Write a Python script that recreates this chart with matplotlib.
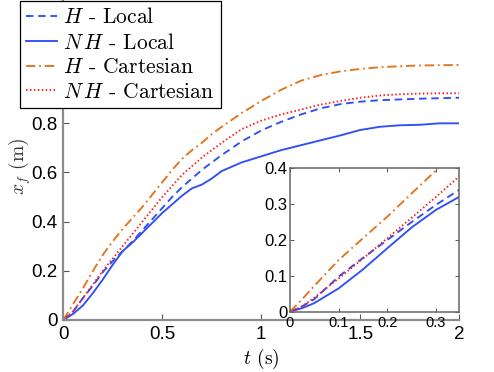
import matplotlib
matplotlib.use('Agg')
import matplotlib.pyplot as plt

plt.rcParams['mathtext.fontset'] = 'cm'
plt.rcParams['font.family'] = ['Liberation Sans', 'DejaVu Sans']

# main plot
t = [0, .05, .1, .15, .2, .25, .3, .35, .4, .45, .5, .55, .6, .65, .7, .75, .8,
     .9, 1.0, 1.1, 1.2, 1.3, 1.4, 1.5, 1.6, 1.7, 1.8, 1.9, 2.0]
h_local = [0, .035, .09, .14, .195, .24, .28, .32, .365, .41, .455, .5, .54, .575, .61, .64, .67,
           .725, .77, .805, .835, .86, .877, .887, .893, .896, .899, .901, .903]
nh_local = [0, .025, .06, .11, .165, .225, .28, .315, .355, .395, .435, .47, .505, .535, .55, .575, .605,
            .64, .665, .69, .71, .73, .75, .772, .785, .791, .793, .799, .799]
h_cart = [0, .065, .13, .2, .265, .32, .37, .415, .46, .51, .56, .61, .655, .69, .72, .755, .785,
          .84, .89, .935, .972, .995, 1.01, 1.02, 1.027, 1.031, 1.034, 1.035, 1.036]
nh_cart = [0, .035, .09, .145, .2, .25, .3, .35, .4, .45, .5, .545, .59, .625, .66, .69, .72,
           .775, .81, .835, .855, .875, .89, .903, .912, .917, .92, .921, .921]

# inset (zoom on the start)
t_in = [0, .025, .05, .1, .15, .2, .25, .3, .35]
h_local_in = [0, .015, .035, .098, .15, .2, .25, .298, .342]
nh_local_in = [0, .01, .024, .065, .118, .177, .235, .284, .322]
h_cart_in = [0, .035, .072, .144, .205, .265, .33, .394, .46]
nh_cart_in = [0, .015, .039, .093, .148, .205, .262, .32, .38]

labels = ['$H$ - Local', '$N\\,H$ - Local', '$H$ - Cartesian', '$N\\,H$ - Cartesian']
BLUE = '#2f4ff5'
ORANGE = '#e2741c'
RED = '#ff1a1a'


def draw(ax, x, ys, lw):
    a, b, c, d = ys
    l1, = ax.plot(x, a, color=BLUE, ls=(0, (4, 2.5)), lw=lw)
    l2, = ax.plot(x, b, color=BLUE, ls='-', lw=lw)
    l3, = ax.plot(x, c, color=ORANGE, ls=(0, (5, 2, 1, 2)), lw=lw)
    l4, = ax.plot(x, d, color=RED, ls=(0, (0.8, 1.3)), lw=lw)
    return [l1, l2, l3, l4]


fig = plt.figure(figsize=(4.94, 3.72), dpi=100)
W, H = 494.0, 372.0

ax = fig.add_axes([63.3 / W, 52 / H, 396 / W, 320 / H])
lines = draw(ax, t, [h_local, nh_local, h_cart, nh_cart], 1.35)
ax.set_xlim(0, 2)
ax.set_ylim(0, 1.3)
ax.set_xticks([0, 0.5, 1, 1.5, 2])
ax.set_xticklabels(['0', '0.5', '1', '1.5', '2'])
ax.set_yticks([0, 0.2, 0.4, 0.6, 0.8, 1.0, 1.2])
ax.set_yticklabels(['0', '0.2', '0.4', '0.6', '0.8', '1', '1.2'])
ax.spines['top'].set_visible(False)
ax.spines['right'].set_visible(False)
for s in ['left', 'bottom']:
    ax.spines[s].set_color('#8c8c8c')
    ax.spines[s].set_linewidth(1.6)
ax.tick_params(direction='in', length=4, width=0.8, color='#555555', labelsize=13.5, pad=4)
ax.set_xlabel('$t$ (s)', family='cmr10', fontsize=14, labelpad=3)
ax.set_ylabel('$x_f$ (m)', family='cmr10', fontsize=14, color='#333333')
ax.yaxis.set_label_coords(-0.076, 0.48)

axin = fig.add_axes([290 / W, (H - 311.7) / H, 169.3 / W, 143.4 / H])
draw(axin, t_in, [h_local_in, nh_local_in, h_cart_in, nh_cart_in], 1.35)
axin.set_xlim(0, 0.348)
axin.set_ylim(0, 0.4)
axin.set_xticks([0, 0.1, 0.2, 0.3])
axin.set_xticklabels(['0', '0.1', '0.2', '0.3'])
axin.set_yticks([0, 0.1, 0.2, 0.3, 0.4])
axin.set_yticklabels(['0', '0.1', '0.2', '0.3', '0.4'])
for s in axin.spines.values():
    s.set_color('#666666')
    s.set_linewidth(1.1)
axin.tick_params(direction='in', length=3, width=0.7, color='#555555', top=True, right=True, pad=2)
axin.tick_params(axis='y', labelsize=12)
axin.tick_params(axis='x', labelsize=10.5, pad=3)

leg = fig.legend(lines, labels, loc='upper left', bbox_to_anchor=(20 / W, 1 - 1 / H),
                 bbox_transform=fig.transFigure, borderaxespad=0, fancybox=False,
                 edgecolor='black', framealpha=1, handlelength=1.4, handletextpad=0.3,
                 labelspacing=0.24, borderpad=0.3, prop={'family': 'cmr10', 'size': 15.5})
leg.get_frame().set_linewidth(0.9)

fig.savefig('out.png', dpi=100)
